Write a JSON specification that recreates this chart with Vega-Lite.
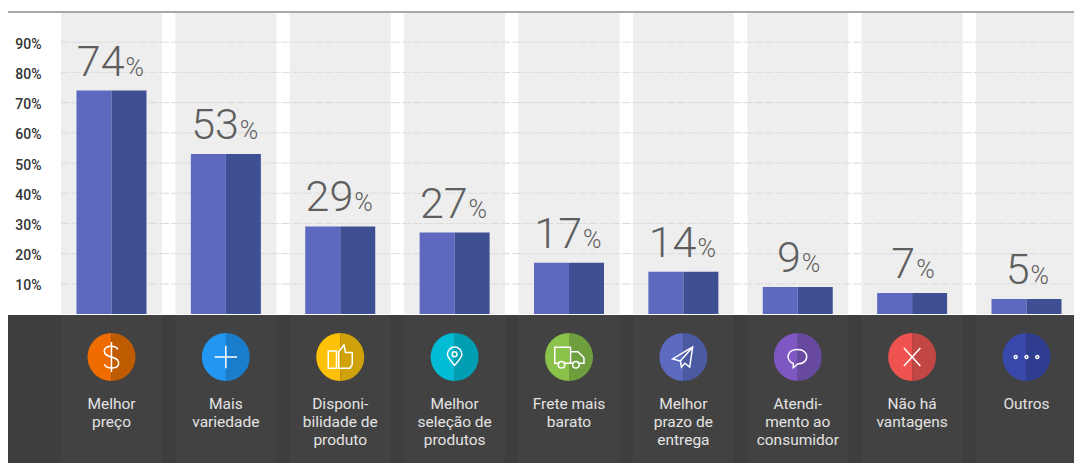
{
  "$schema": "https://vega.github.io/schema/vega-lite/v6.json",
  "width": 1066,
  "height": 451,
  "autosize": {"type": "none"},
  "padding": {"left": 8, "top": 12, "right": 0, "bottom": 0},
  "background": "#ffffff",
  "config": {"view": {"stroke": null}},
  "datasets": {
    "vantagens": [
      {"categoria": "Melhor preço", "rotulo": "Melhor|preço", "valor": 74},
      {"categoria": "Mais variedade", "rotulo": "Mais|variedade", "valor": 53},
      {"categoria": "Disponibilidade de produto", "rotulo": "Disponi-|bilidade de|produto", "valor": 29},
      {"categoria": "Melhor seleção de produtos", "rotulo": "Melhor|seleção de|produtos", "valor": 27},
      {"categoria": "Frete mais barato", "rotulo": "Frete mais|barato", "valor": 17},
      {"categoria": "Melhor prazo de entrega", "rotulo": "Melhor|prazo de|entrega", "valor": 14},
      {"categoria": "Atendimento ao consumidor", "rotulo": "Atendi-|mento ao|consumidor", "valor": 9},
      {"categoria": "Não há vantagens", "rotulo": "Não há|vantagens", "valor": 7},
      {"categoria": "Outros", "rotulo": "Outros", "valor": 5}
    ],
    "niveis": [
      {"nivel": 10}, {"nivel": 20}, {"nivel": 30}, {"nivel": 40}, {"nivel": 50},
      {"nivel": 60}, {"nivel": 70}, {"nivel": 80}, {"nivel": 90}
    ]
  },
  "data": {"name": "vantagens"},
  "resolve": {"scale": {"x": "independent", "color": "independent"}},
  "layer": [
    {
      "description": "Faixas verticais claras atrás de cada categoria, com o eixo de porcentagem",
      "mark": {"type": "bar", "width": 101, "color": "#eeeeee"},
      "encoding": {
        "x": {"field": "categoria", "type": "nominal", "sort": null, "axis": null, "scale": {"type": "band", "range": [46.3, 1075.7], "padding": 0}},
        "y": {
          "datum": 100,
          "type": "quantitative",
          "scale": {"domain": [-49.3, 100], "nice": false, "zero": false},
          "axis": {
            "values": [10, 20, 30, 40, 50, 60, 70, 80, 90],
            "orient": "left",
            "offset": -33,
            "title": null,
            "grid": false,
            "domain": false,
            "ticks": false,
            "labelPadding": 0,
            "labelOffset": 2,
            "labelExpr": "datum.value + '%'",
            "labelColor": "#333333",
            "labelFont": "Roboto",
            "labelFontSize": 14,
            "labelFontWeight": 500
          }
        },
        "y2": {"datum": 0}
      }
    },
    {
      "description": "Linhas de grade tracejadas",
      "data": {"name": "niveis"},
      "mark": {"type": "rule", "color": "#dcdcdc", "strokeDash": [9, 2], "strokeWidth": 1},
      "encoding": {
        "x": {"datum": 53, "type": "quantitative", "axis": null, "scale": {"domain": [0, 1066], "nice": false, "zero": false}},
        "x2": {"datum": 1066},
        "y": {"field": "nivel", "type": "quantitative", "scale": {"domain": [-49.3, 100], "nice": false, "zero": false}}
      }
    },
    {
      "description": "Fio superior",
      "mark": {"type": "rule", "color": "#a8a8a8", "strokeWidth": 1.5},
      "encoding": {"y": {"datum": 100, "type": "quantitative", "scale": {"domain": [-49.3, 100], "nice": false, "zero": false}}}
    },
    {
      "description": "Base escura com ícones e rótulos",
      "mark": {"type": "rect", "color": "#3e3e3e"},
      "encoding": {
        "y": {"datum": -0.3, "type": "quantitative", "scale": {"domain": [-49.3, 100], "nice": false, "zero": false}},
        "y2": {"datum": -49.3}
      }
    },
    {
      "description": "Continuação sutil das faixas dentro da base escura",
      "mark": {"type": "bar", "width": 101, "color": "#ffffff", "opacity": 0.025},
      "encoding": {
        "x": {"field": "categoria", "type": "nominal", "sort": null, "axis": null, "scale": {"type": "band", "range": [46.3, 1075.7], "padding": 0}},
        "y": {"datum": -0.3, "type": "quantitative", "scale": {"domain": [-49.3, 100], "nice": false, "zero": false}},
        "y2": {"datum": -49.3}
      }
    },
    {
      "description": "Metade clara de cada barra",
      "mark": {"type": "bar", "width": 35, "xOffset": -17.5, "color": "#5c69bf"},
      "encoding": {
        "x": {"field": "categoria", "type": "nominal", "sort": null, "axis": null, "scale": {"type": "band", "range": [46.3, 1075.7], "padding": 0}},
        "y": {"field": "valor", "type": "quantitative", "scale": {"domain": [-49.3, 100], "nice": false, "zero": false}}
      }
    },
    {
      "description": "Metade escura de cada barra",
      "mark": {"type": "bar", "width": 35, "xOffset": 17.5, "color": "#3f4f94"},
      "encoding": {
        "x": {"field": "categoria", "type": "nominal", "sort": null, "axis": null, "scale": {"type": "band", "range": [46.3, 1075.7], "padding": 0}},
        "y": {"field": "valor", "type": "quantitative", "scale": {"domain": [-49.3, 100], "nice": false, "zero": false}}
      }
    },
    {
      "description": "Valor de dois dígitos acima da barra",
      "transform": [{"filter": "datum.valor >= 10"}],
      "mark": {"type": "text", "align": "right", "baseline": "alphabetic", "dx": 13, "dy": -15, "font": "Roboto", "fontWeight": 300, "fontSize": 43, "color": "#5e5e5e"},
      "encoding": {
        "x": {"field": "categoria", "type": "nominal", "axis": null, "scale": {"type": "band", "domain": ["Melhor preço", "Mais variedade", "Disponibilidade de produto", "Melhor seleção de produtos", "Frete mais barato", "Melhor prazo de entrega", "Atendimento ao consumidor", "Não há vantagens", "Outros"], "range": [46.3, 1075.7], "padding": 0}},
        "y": {"field": "valor", "type": "quantitative", "scale": {"domain": [-49.3, 100], "nice": false, "zero": false}},
        "text": {"field": "valor", "type": "quantitative"}
      }
    },
    {
      "description": "Sinal de porcentagem dos valores de dois dígitos",
      "transform": [{"filter": "datum.valor >= 10"}],
      "mark": {"type": "text", "align": "left", "baseline": "alphabetic", "dx": 14, "dy": -15, "font": "Roboto", "fontWeight": 300, "fontSize": 25, "color": "#5e5e5e", "text": "%"},
      "encoding": {
        "x": {"field": "categoria", "type": "nominal", "axis": null, "scale": {"type": "band", "domain": ["Melhor preço", "Mais variedade", "Disponibilidade de produto", "Melhor seleção de produtos", "Frete mais barato", "Melhor prazo de entrega", "Atendimento ao consumidor", "Não há vantagens", "Outros"], "range": [46.3, 1075.7], "padding": 0}},
        "y": {"field": "valor", "type": "quantitative", "scale": {"domain": [-49.3, 100], "nice": false, "zero": false}}
      }
    },
    {
      "description": "Valor de um dígito acima da barra",
      "transform": [{"filter": "datum.valor < 10"}],
      "mark": {"type": "text", "align": "right", "baseline": "alphabetic", "dx": 3, "dy": -15, "font": "Roboto", "fontWeight": 300, "fontSize": 43, "color": "#5e5e5e"},
      "encoding": {
        "x": {"field": "categoria", "type": "nominal", "axis": null, "scale": {"type": "band", "domain": ["Melhor preço", "Mais variedade", "Disponibilidade de produto", "Melhor seleção de produtos", "Frete mais barato", "Melhor prazo de entrega", "Atendimento ao consumidor", "Não há vantagens", "Outros"], "range": [46.3, 1075.7], "padding": 0}},
        "y": {"field": "valor", "type": "quantitative", "scale": {"domain": [-49.3, 100], "nice": false, "zero": false}},
        "text": {"field": "valor", "type": "quantitative"}
      }
    },
    {
      "description": "Sinal de porcentagem dos valores de um dígito",
      "transform": [{"filter": "datum.valor < 10"}],
      "mark": {"type": "text", "align": "left", "baseline": "alphabetic", "dx": 4, "dy": -15, "font": "Roboto", "fontWeight": 300, "fontSize": 25, "color": "#5e5e5e", "text": "%"},
      "encoding": {
        "x": {"field": "categoria", "type": "nominal", "axis": null, "scale": {"type": "band", "domain": ["Melhor preço", "Mais variedade", "Disponibilidade de produto", "Melhor seleção de produtos", "Frete mais barato", "Melhor prazo de entrega", "Atendimento ao consumidor", "Não há vantagens", "Outros"], "range": [46.3, 1075.7], "padding": 0}},
        "y": {"field": "valor", "type": "quantitative", "scale": {"domain": [-49.3, 100], "nice": false, "zero": false}}
      }
    },
    {
      "description": "Metade esquerda do círculo do ícone",
      "mark": {"type": "arc", "theta": 3.14159265, "theta2": 6.2831853, "outerRadius": 24, "innerRadius": 0},
      "encoding": {
        "x": {"field": "categoria", "type": "nominal", "sort": null, "axis": null, "scale": {"type": "band", "range": [46.3, 1075.7], "padding": 0}},
        "y": {"datum": -14.2, "type": "quantitative", "scale": {"domain": [-49.3, 100], "nice": false, "zero": false}},
        "color": {"field": "categoria", "type": "nominal", "sort": null, "legend": null, "scale": {"range": ["#ef6c00", "#2196f3", "#ffc107", "#00bcd4", "#8bc34a", "#5c6bc0", "#7e57c2", "#ef5350", "#3949ab"]}}
      }
    },
    {
      "description": "Metade direita do círculo do ícone",
      "mark": {"type": "arc", "theta": 0, "theta2": 3.14159265, "outerRadius": 24, "innerRadius": 0},
      "encoding": {
        "x": {"field": "categoria", "type": "nominal", "sort": null, "axis": null, "scale": {"type": "band", "range": [46.3, 1075.7], "padding": 0}},
        "y": {"datum": -14.2, "type": "quantitative", "scale": {"domain": [-49.3, 100], "nice": false, "zero": false}},
        "color": {"field": "categoria", "type": "nominal", "sort": null, "legend": null, "scale": {"range": ["#bf5b00", "#1a7dcb", "#cfa20a", "#009eb3", "#6f9e3e", "#4a5aa3", "#6749a0", "#c24644", "#2f3d90"]}}
      }
    },
    {
      "description": "Pictogramas brancos traçados sobre os círculos",
      "mark": {"type": "point", "filled": false, "stroke": "#ffffff", "strokeWidth": 1.5, "size": 900, "opacity": 1},
      "encoding": {
        "x": {"field": "categoria", "type": "nominal", "sort": null, "axis": null, "scale": {"type": "band", "range": [46.3, 1075.7], "padding": 0}},
        "y": {"datum": -14.2, "type": "quantitative", "scale": {"domain": [-49.3, 100], "nice": false, "zero": false}},
        "shape": {
          "field": "categoria",
          "type": "nominal",
          "sort": null,
          "legend": null,
          "scale": {
            "range": [
              "M0.42,-0.5 C0.3,-0.8 -0.48,-0.82 -0.48,-0.38 C-0.48,0.1 0.48,-0.1 0.48,0.4 C0.48,0.85 -0.35,0.8 -0.48,0.48 M0,-1 L0,1",
              "M-0.75,0 L0.75,0 M0,-0.75 L0,0.75",
              "M-0.8,-0.4 L-0.25,-0.4 L-0.25,0.75 L-0.8,0.75 Z M-0.1,-0.35 L0.25,-0.8 L0.35,-0.3 L0.8,-0.3 L0.8,0.5 L0.65,0.75 L-0.1,0.75 Z",
              "M0,0.56 C-0.22,0.3 -0.48,0.04 -0.48,-0.18 A0.48,0.48 0 1 1 0.48,-0.18 C0.48,0.04 0.22,0.3 0,0.56 Z M0.16,-0.18 A0.16,0.16 0 1 1 -0.16,-0.18 A0.16,0.16 0 1 1 0.16,-0.18 Z",
              "M-0.62,0.42 L-0.95,0.42 L-0.95,-0.65 L0.1,-0.65 L0.1,0.42 L-0.38,0.42 M0.1,-0.35 L0.6,-0.35 L1,0.05 L1,0.42 L0.7,0.42 M0.1,0.42 L0.22,0.42 M-0.28,0.52 A0.22,0.22 0 1 1 -0.72,0.52 A0.22,0.22 0 1 1 -0.28,0.52 Z M0.68,0.52 A0.22,0.22 0 1 1 0.24,0.52 A0.22,0.22 0 1 1 0.68,0.52 Z",
              "M0.62,-0.67 L-0.71,0.13 L-0.2,0.27 L-0.13,0.67 L0.1,0.42 L0.42,0.67 Z M0.62,-0.67 L-0.2,0.27",
              "M-0.3,0.43 C-0.8,0.25 -0.8,-0.5 0,-0.5 C0.8,-0.5 0.8,0.45 0,0.47 L-0.3,0.72 Z",
              "M-0.55,-0.6 L0.55,0.6 M0.55,-0.6 L-0.55,0.6",
              "M-0.62,0 A0.1,0.1 0 1 1 -0.82,0 A0.1,0.1 0 1 1 -0.62,0 Z M0.1,0 A0.1,0.1 0 1 1 -0.1,0 A0.1,0.1 0 1 1 0.1,0 Z M0.82,0 A0.1,0.1 0 1 1 0.62,0 A0.1,0.1 0 1 1 0.82,0 Z"
            ]
          }
        }
      }
    },
    {
      "description": "Nome da categoria sob o ícone",
      "mark": {"type": "text", "align": "center", "baseline": "top", "lineBreak": "|", "lineHeight": 18.3, "font": "Roboto", "fontSize": 15.5, "color": "#e4e4e4"},
      "encoding": {
        "x": {"field": "categoria", "type": "nominal", "sort": null, "axis": null, "scale": {"type": "band", "range": [46.3, 1075.7], "padding": 0}},
        "y": {"datum": -27.4, "type": "quantitative", "scale": {"domain": [-49.3, 100], "nice": false, "zero": false}},
        "text": {"field": "rotulo", "type": "nominal"}
      }
    }
  ]
}
